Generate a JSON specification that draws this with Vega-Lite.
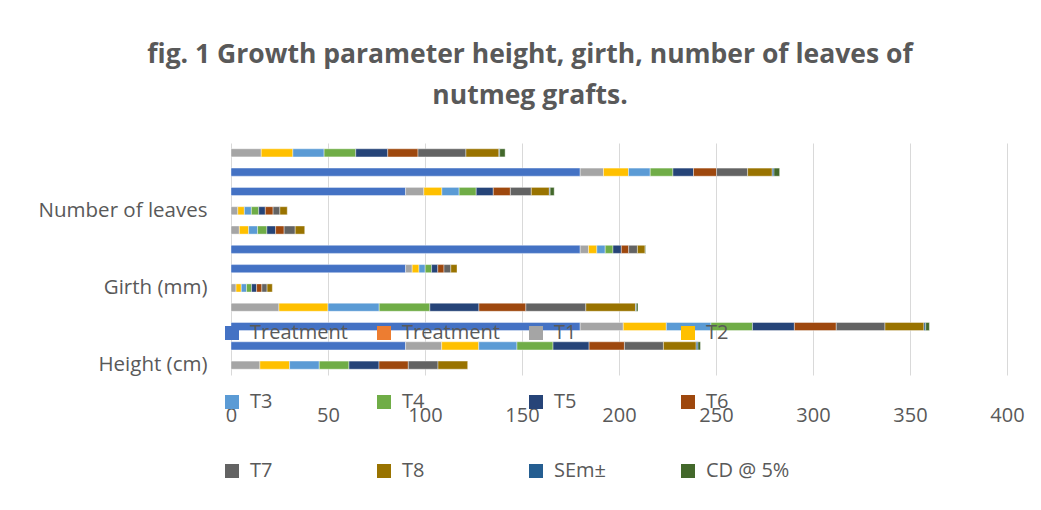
{
"$schema": "https://vega.github.io/schema/vega-lite/v6.json",
"width": 776, "height": 232,
"autosize": {"type": "none"},
"padding": {"left": 231, "top": 143, "right": 34, "bottom": 135},
"background": "white",
"title": {
  "text": ["fig. 1 Growth parameter height, girth, number of leaves of", "nutmeg grafts."],
  "font": "Open Sans", "fontSize": 26.5, "fontWeight": "bold", "color": "#595959",
  "anchor": "middle", "frame": "group", "dx": -89, "offset": 33, "lineHeight": 41
},
"data": {"values": [
{"p":"Number of leaves 4","s":"T1","k":2,"v":15.6},{"p":"Number of leaves 4","s":"T2","k":3,"v":16.3},{"p":"Number of leaves 4","s":"T3","k":4,"v":16.1},{"p":"Number of leaves 4","s":"T4","k":5,"v":16.3},{"p":"Number of leaves 4","s":"T5","k":6,"v":16.5},{"p":"Number of leaves 4","s":"T6","k":7,"v":15.6},{"p":"Number of leaves 4","s":"T7","k":8,"v":24.7},{"p":"Number of leaves 4","s":"T8","k":9,"v":17.0},{"p":"Number of leaves 4","s":"SEm±","k":10,"v":0.4},{"p":"Number of leaves 4","s":"CD @ 5%","k":11,"v":2.8},
{"p":"Number of leaves 3","s":"Treatment","k":0,"v":180},{"p":"Number of leaves 3","s":"T1","k":2,"v":12.0},{"p":"Number of leaves 3","s":"T2","k":3,"v":12.9},{"p":"Number of leaves 3","s":"T3","k":4,"v":11.2},{"p":"Number of leaves 3","s":"T4","k":5,"v":11.7},{"p":"Number of leaves 3","s":"T5","k":6,"v":10.6},{"p":"Number of leaves 3","s":"T6","k":7,"v":11.9},{"p":"Number of leaves 3","s":"T7","k":8,"v":16.0},{"p":"Number of leaves 3","s":"T8","k":9,"v":12.7},{"p":"Number of leaves 3","s":"SEm±","k":10,"v":0.9},{"p":"Number of leaves 3","s":"CD @ 5%","k":11,"v":2.9},
{"p":"Number of leaves 2","s":"Treatment","k":0,"v":90},{"p":"Number of leaves 2","s":"T1","k":2,"v":9.4},{"p":"Number of leaves 2","s":"T2","k":3,"v":9.3},{"p":"Number of leaves 2","s":"T3","k":4,"v":8.9},{"p":"Number of leaves 2","s":"T4","k":5,"v":8.8},{"p":"Number of leaves 2","s":"T5","k":6,"v":8.8},{"p":"Number of leaves 2","s":"T6","k":7,"v":8.8},{"p":"Number of leaves 2","s":"T7","k":8,"v":10.8},{"p":"Number of leaves 2","s":"T8","k":9,"v":9.3},{"p":"Number of leaves 2","s":"SEm±","k":10,"v":0.4},{"p":"Number of leaves 2","s":"CD @ 5%","k":11,"v":2.1},
{"p":"Number of leaves","s":"T1","k":2,"v":3.5},{"p":"Number of leaves","s":"T2","k":3,"v":3.4},{"p":"Number of leaves","s":"T3","k":4,"v":3.6},{"p":"Number of leaves","s":"T4","k":5,"v":3.8},{"p":"Number of leaves","s":"T5","k":6,"v":3.4},{"p":"Number of leaves","s":"T6","k":7,"v":4.0},{"p":"Number of leaves","s":"T7","k":8,"v":3.5},{"p":"Number of leaves","s":"T8","k":9,"v":3.8},
{"p":"Girth (mm) 4","s":"T1","k":2,"v":4.3},{"p":"Girth (mm) 4","s":"T2","k":3,"v":4.8},{"p":"Girth (mm) 4","s":"T3","k":4,"v":4.6},{"p":"Girth (mm) 4","s":"T4","k":5,"v":4.8},{"p":"Girth (mm) 4","s":"T5","k":6,"v":4.5},{"p":"Girth (mm) 4","s":"T6","k":7,"v":4.4},{"p":"Girth (mm) 4","s":"T7","k":8,"v":5.7},{"p":"Girth (mm) 4","s":"T8","k":9,"v":4.9},
{"p":"Girth (mm) 3","s":"Treatment","k":0,"v":180},{"p":"Girth (mm) 3","s":"T1","k":2,"v":4.3},{"p":"Girth (mm) 3","s":"T2","k":3,"v":4.3},{"p":"Girth (mm) 3","s":"T3","k":4,"v":4.3},{"p":"Girth (mm) 3","s":"T4","k":5,"v":4.0},{"p":"Girth (mm) 3","s":"T5","k":6,"v":4.3},{"p":"Girth (mm) 3","s":"T6","k":7,"v":3.8},{"p":"Girth (mm) 3","s":"T7","k":8,"v":4.5},{"p":"Girth (mm) 3","s":"T8","k":9,"v":4.0},{"p":"Girth (mm) 3","s":"SEm±","k":10,"v":0.1},{"p":"Girth (mm) 3","s":"CD @ 5%","k":11,"v":0.3},
{"p":"Girth (mm) 2","s":"Treatment","k":0,"v":90},{"p":"Girth (mm) 2","s":"T1","k":2,"v":3.4},{"p":"Girth (mm) 2","s":"T2","k":3,"v":3.5},{"p":"Girth (mm) 2","s":"T3","k":4,"v":3.2},{"p":"Girth (mm) 2","s":"T4","k":5,"v":3.3},{"p":"Girth (mm) 2","s":"T5","k":6,"v":3.2},{"p":"Girth (mm) 2","s":"T6","k":7,"v":3.2},{"p":"Girth (mm) 2","s":"T7","k":8,"v":3.5},{"p":"Girth (mm) 2","s":"T8","k":9,"v":3.2},
{"p":"Girth (mm)","s":"T1","k":2,"v":2.6},{"p":"Girth (mm)","s":"T2","k":3,"v":2.7},{"p":"Girth (mm)","s":"T3","k":4,"v":2.7},{"p":"Girth (mm)","s":"T4","k":5,"v":2.6},{"p":"Girth (mm)","s":"T5","k":6,"v":2.6},{"p":"Girth (mm)","s":"T6","k":7,"v":2.7},{"p":"Girth (mm)","s":"T7","k":8,"v":2.7},{"p":"Girth (mm)","s":"T8","k":9,"v":2.7},
{"p":"Height (cm) 4","s":"T1","k":2,"v":24.7},{"p":"Height (cm) 4","s":"T2","k":3,"v":25.3},{"p":"Height (cm) 4","s":"T3","k":4,"v":26.4},{"p":"Height (cm) 4","s":"T4","k":5,"v":26.1},{"p":"Height (cm) 4","s":"T5","k":6,"v":25.3},{"p":"Height (cm) 4","s":"T6","k":7,"v":24.2},{"p":"Height (cm) 4","s":"T7","k":8,"v":30.9},{"p":"Height (cm) 4","s":"T8","k":9,"v":25.6},{"p":"Height (cm) 4","s":"SEm±","k":10,"v":0.4},{"p":"Height (cm) 4","s":"CD @ 5%","k":11,"v":0.9},
{"p":"Height (cm) 3","s":"Treatment","k":0,"v":180},{"p":"Height (cm) 3","s":"T1","k":2,"v":22.2},{"p":"Height (cm) 3","s":"T2","k":3,"v":22.2},{"p":"Height (cm) 3","s":"T3","k":4,"v":23.0},{"p":"Height (cm) 3","s":"T4","k":5,"v":21.4},{"p":"Height (cm) 3","s":"T5","k":6,"v":21.6},{"p":"Height (cm) 3","s":"T6","k":7,"v":21.6},{"p":"Height (cm) 3","s":"T7","k":8,"v":25.1},{"p":"Height (cm) 3","s":"T8","k":9,"v":20.1},{"p":"Height (cm) 3","s":"SEm±","k":10,"v":0.9},{"p":"Height (cm) 3","s":"CD @ 5%","k":11,"v":1.9},
{"p":"Height (cm) 2","s":"Treatment","k":0,"v":90},{"p":"Height (cm) 2","s":"T1","k":2,"v":18.6},{"p":"Height (cm) 2","s":"T2","k":3,"v":19.1},{"p":"Height (cm) 2","s":"T3","k":4,"v":19.7},{"p":"Height (cm) 2","s":"T4","k":5,"v":18.6},{"p":"Height (cm) 2","s":"T5","k":6,"v":18.6},{"p":"Height (cm) 2","s":"T6","k":7,"v":18.2},{"p":"Height (cm) 2","s":"T7","k":8,"v":20.1},{"p":"Height (cm) 2","s":"T8","k":9,"v":16.9},{"p":"Height (cm) 2","s":"SEm±","k":10,"v":0.9},{"p":"Height (cm) 2","s":"CD @ 5%","k":11,"v":1.3},
{"p":"Height (cm)","s":"T1","k":2,"v":14.9},{"p":"Height (cm)","s":"T2","k":3,"v":15.3},{"p":"Height (cm)","s":"T3","k":4,"v":15.3},{"p":"Height (cm)","s":"T4","k":5,"v":15.3},{"p":"Height (cm)","s":"T5","k":6,"v":15.5},{"p":"Height (cm)","s":"T6","k":7,"v":15.1},{"p":"Height (cm)","s":"T7","k":8,"v":15.3},{"p":"Height (cm)","s":"T8","k":9,"v":15.3}
]},
"mark": {"type": "bar", "stroke": "white", "strokeWidth": 0.4},
"encoding": {
  "y": {"field": "p", "type": "nominal",
    "sort": ["Number of leaves 4","Number of leaves 3","Number of leaves 2","Number of leaves","Girth (mm) 4","Girth (mm) 3","Girth (mm) 2","Girth (mm)","Height (cm) 4","Height (cm) 3","Height (cm) 2","Height (cm)"],
    "scale": {"paddingInner": 0.58, "paddingOuter": 0.3},
    "axis": {"title": null, "domain": false, "ticks": false, "labelFont": "Open Sans", "labelFontSize": 20.5, "labelColor": "#595959", "labelPadding": 24, "labelLimit": 300, "labelOverlap": false,
      "labelExpr": "indexof(['Height (cm)','Girth (mm)','Number of leaves'], datum.label) >= 0 ? datum.label : ''"}},
  "x": {"field": "v", "type": "quantitative", "stack": "zero",
    "scale": {"domain": [0, 400], "nice": false},
    "axis": {"title": null, "values": [0,50,100,150,200,250,300,350,400], "grid": true, "gridColor": "#D9D9D9", "gridWidth": 1, "domain": false, "ticks": false, "labelFont": "Open Sans", "labelFontSize": 20, "labelColor": "#595959", "labelPadding": 30, "labelFlush": false}},
  "color": {"field": "s", "type": "nominal",
    "scale": {"domain": ["Treatment","Treatment ","T1","T2","T3","T4","T5","T6","T7","T8","SEm±","CD @ 5%"],
      "range": ["#4472C4","#ED7D31","#A5A5A5","#FFC000","#5B9BD5","#70AD47","#264478","#9E480E","#636363","#997300","#255E91","#43682B"]},
    "legend": {"title": null, "orient": "none", "legendX": -9, "legendY": 180, "direction": "horizontal", "columns": 4, "gridAlign": "all", "columnPadding": 26, "rowPadding": 49, "symbolType": "square", "symbolSize": 196, "symbolStrokeWidth": 0, "symbolOpacity": 1, "labelFont": "Open Sans", "labelFontSize": 20, "labelColor": "#595959", "labelOffset": 8, "padding": 0, "labelLimit": 300}},
  "order": {"field": "k", "type": "quantitative"}
},
"config": {"view": {"stroke": null}}
}
